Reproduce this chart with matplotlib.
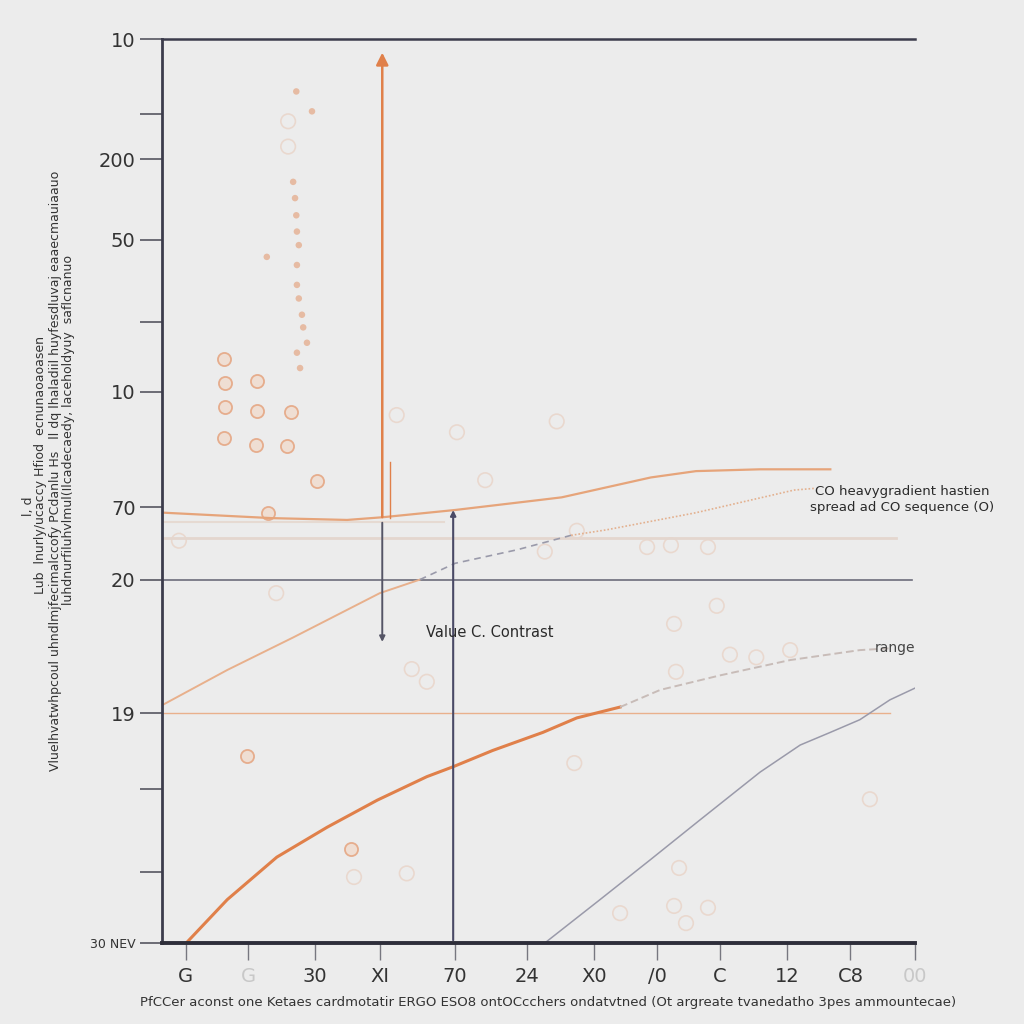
import matplotlib.pyplot as plt
import numpy as np

plt.rcParams['font.family'] = ['DejaVu Sans']

BG = '#ececec'
ORANGE = '#e0804a'
LIGHT_ORANGE = '#e9b08c'
DARK = '#3c3c4c'
GRAY = '#9a9aaa'

# --- data (chart units) ---
# dense column of small dots in the upper left
col_x = [2.14, 2.39, 2.09, 2.12, 2.14, 2.15, 2.18, 1.67, 2.15, 2.15, 2.18, 2.23, 2.25, 2.31, 2.15, 2.20]
col_y = [94.2, 92.0, 84.2, 82.4, 80.5, 78.7, 77.2, 75.9, 75.0, 72.8, 71.3, 69.5, 68.1, 66.4, 65.3, 63.6]

# larger rings below the column
ring_x = [0.99, 1.00, 1.51, 1.00, 1.51, 2.06, 0.99, 1.50, 1.99, 2.47, 1.69, 1.35, 3.01]
ring_y = [64.6, 61.9, 62.2, 59.3, 58.8, 58.7, 55.9, 55.1, 55.0, 51.1, 47.6, 20.7, 10.4]

# faint rings scattered over the plot
faint_x = [2.01, 2.01, 6.29, 3.74, 4.70, 5.15, 0.27, 7.73, 8.11, 8.70, 6.10, 6.61, 8.84, 8.16,
           1.82, 3.98, 4.22, 10.01, 9.47, 8.19, 9.05, 6.57, 11.28, 3.06, 3.90, 8.16, 8.70,
           8.24, 7.30, 8.35]
faint_y = [90.9, 88.1, 57.7, 58.4, 56.5, 51.2, 44.5, 43.8, 44.0, 43.8, 43.3, 45.6, 37.3, 35.3,
           38.7, 30.3, 28.9, 32.4, 31.6, 30.0, 31.9, 19.9, 15.9, 7.3, 7.7, 4.1, 3.9,
           8.3, 3.3, 2.2]

# upper light orange curve
upper_x = [0.03, 1.75, 2.95, 3.52, 4.67, 6.01, 6.37, 7.08, 7.79, 8.51, 9.53, 10.65]
upper_y = [47.6, 47.0, 46.8, 47.1, 47.9, 49.0, 49.3, 50.4, 51.5, 52.2, 52.4, 52.4]

# middle curve: solid start, dashed then dotted continuation
mid_x = [0, 1.04, 2.09, 3.16, 3.47, 4.11]
mid_y = [26.3, 30.2, 33.8, 37.6, 38.7, 40.2]
mid_dash_x = [4.11, 4.67, 5.66, 6.52]
mid_dash_y = [40.2, 42.0, 43.5, 45.1]
mid_dot_x = [6.52, 7.08, 8.51, 10.07, 10.41]
mid_dot_y = [45.1, 45.7, 47.6, 50.1, 50.3]

# main orange curve
main_x = [0.40, 1.04, 1.83, 2.63, 3.43, 4.22, 4.64, 5.27, 6.07, 6.61, 7.30]
main_y = [0.1, 4.8, 9.5, 12.8, 15.8, 18.4, 19.5, 21.3, 23.3, 24.9, 26.1]
main_dash_x = [7.30, 7.94, 8.89, 10.01, 11.12, 11.60]
main_dash_y = [26.1, 28.0, 29.6, 31.3, 32.4, 32.6]

# gray curve lower right
gray_x = [6.10, 6.98, 7.78, 8.57, 9.53, 10.17, 10.65, 11.12, 11.60, 12.0]
gray_y = [0, 4.8, 9.2, 13.6, 18.9, 21.9, 23.3, 24.7, 26.9, 28.2]

# reference lines
h_dark = 40.2
h_orange = 25.4
h_faint = 44.8
v_arrow_x = 3.51
v_arrow_span = (33.0, 98.8)
v_dark_x = 4.64
v_dark_top = 48.2

y_ticks = [0, 7.9, 17.0, 25.4, 40.2, 48.2, 61.0, 68.7, 77.8, 86.7, 91.7, 100]
y_labels = ['30 NEV', '', '', '19', '20', '70', '10', '', '50', '200', '', '10']
x_ticks = [0.38, 1.37, 2.44, 3.47, 4.67, 5.82, 6.88, 7.89, 8.89, 9.96, 10.97, 12.0]
x_labels = ['G', 'G', '30', 'XI', '70', '24', 'X0', '/0', 'C', '12', 'C8', '00']

fig = plt.figure(figsize=(10.24, 10.24), dpi=100, facecolor=BG)
ax = fig.add_axes([0.1582, 0.0791, 0.7354, 0.8828], facecolor=BG)
ax.set_xlim(0, 12)
ax.set_ylim(0, 100)

# reference lines
ax.plot([0, 11.95], [h_dark, h_dark], color='#6c6c7a', lw=1.2)
ax.plot([0, 11.6], [h_orange, h_orange], color=LIGHT_ORANGE, lw=1.0)
ax.plot([0, 11.7], [h_faint, h_faint], color='#e4d6ce', lw=2.0)
ax.plot([0, 4.5], [46.6, 46.6], color='#e6dad2', lw=1.5)

# scatter
ax.scatter(faint_x, faint_y, s=110, facecolors='none', edgecolors=ORANGE, linewidths=1.2, alpha=0.18)
ax.scatter(ring_x, ring_y, s=90, facecolors='#f3d3bf', edgecolors=ORANGE, linewidths=1.3, alpha=0.55)
ax.scatter(col_x, col_y, s=22, color=ORANGE, alpha=0.45, edgecolors='none')

# curves
ax.plot(upper_x, upper_y, color='#e6a47a', lw=1.6, solid_joinstyle='round')
ax.plot(mid_x, mid_y, color='#e8b08c', lw=1.4, solid_joinstyle='round')
ax.plot(mid_dash_x, mid_dash_y, color='#9a9aaa', lw=1.2, ls=(0, (4, 3)))
ax.plot(mid_dot_x, mid_dot_y, color='#e3b08e', lw=1.2, ls=(0, (1, 1.2)))
ax.plot(main_x, main_y, color=ORANGE, lw=2.2, solid_joinstyle='round')
ax.plot(main_dash_x, main_dash_y, color='#c8bcb8', lw=1.4, ls=(0, (4, 2)))
ax.plot(gray_x, gray_y, color=GRAY, lw=1.1)

# vertical arrows
ax.annotate('', xy=(v_arrow_x, v_arrow_span[1]), xytext=(v_arrow_x, 46.8),
            arrowprops=dict(arrowstyle='-|>', color=ORANGE, lw=1.8, mutation_scale=18))
ax.annotate('', xy=(v_arrow_x, v_arrow_span[0]), xytext=(v_arrow_x, 46.8),
            arrowprops=dict(arrowstyle='-|>', color='#555566', lw=1.4, mutation_scale=8))
ax.plot([3.63, 3.63], [47.0, 53.2], color=ORANGE, lw=1.0)
ax.annotate('', xy=(v_dark_x, v_dark_top), xytext=(v_dark_x, 0),
            arrowprops=dict(arrowstyle='-|>', color='#4a4a66', lw=1.5, mutation_scale=8))

# annotations
ax.text(11.8, 49.1, 'CO heavygradient hastien\nspread ad CO sequence (O)',
        ha='center', va='center', fontsize=9.5, color='#2a2a2a', linespacing=1.3)
ax.text(4.2, 34.3, 'Value C. Contrast', ha='left', va='center', fontsize=10.5, color='#2a2a2a')
ax.text(12.0, 32.6, 'range', ha='right', va='center', fontsize=10, color='#444444')

# spines
ax.spines['right'].set_visible(False)
ax.spines['left'].set_color(DARK)
ax.spines['left'].set_linewidth(2.0)
ax.spines['bottom'].set_color('#2e2e3a')
ax.spines['bottom'].set_linewidth(2.8)
ax.spines['top'].set_color(DARK)
ax.spines['top'].set_linewidth(1.8)

ax.set_yticks(y_ticks)
ax.set_yticklabels(y_labels)
ax.set_xticks(x_ticks)
ax.set_xticklabels(x_labels)
ax.tick_params(axis='y', length=16, width=1.2, color='#555560', pad=3, labelsize=14, labelcolor='#333333')
ax.tick_params(axis='x', length=12, width=1.0, color='#777780', pad=5, labelsize=14, labelcolor='#333333')
ax.get_yticklabels()[0].set_fontsize(9)
for i in (1, 11):
    ax.get_xticklabels()[i].set_color('#c8c8c8')

# rotated y label columns
fig.text(0.028, 0.51, 'l, d  ', rotation=90, ha='center', va='center', fontsize=9, color='#333333')
fig.text(0.040, 0.55, 'Lub  lnurly/ucaccy Hfiod  ecnunaoaoasen  ', rotation=90, ha='center', va='center',
         fontsize=9, color='#333333')
fig.text(0.054, 0.54, 'Vluelhvatwhpcoul uhndlmjfecimalccofy PCdanlu Hs   ll dq lhaladiil huyfesdluvaj eaaecmauiaauo',
         rotation=90, ha='center', va='center', fontsize=9, color='#333333')
fig.text(0.067, 0.58, 'luhdnurfiluhvlmul(Ilcadecaedy, laceholdyuy\u00a0 saflcnanuo',
         rotation=90, ha='center', va='center', fontsize=9, color='#333333')

# x label
fig.text(0.535, 0.021, 'PfCCer aconst one Ketaes cardmotatir ERGO ESO8 ontOCcchers ondatvtned (Ot argreate tvanedatho 3pes ammountecae)',
         ha='center', va='center', fontsize=9.5, color='#333333')

fig.savefig('out.png', dpi=100, facecolor=BG)
plt.close(fig)
